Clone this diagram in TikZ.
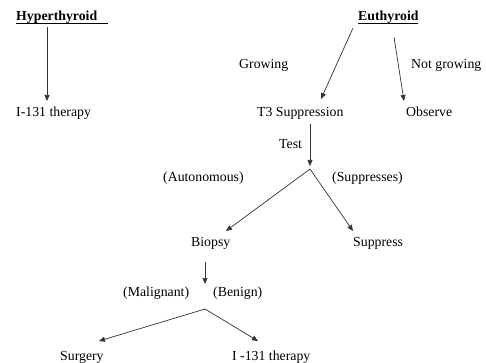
\documentclass[tikz,border=0pt]{standalone}
\usepackage{fontspec}
\setmainfont{Liberation Serif}
\usetikzlibrary{arrows.meta}
\begin{document}
\begin{tikzpicture}[x=1pt,y=-1pt,
  lbl/.style={anchor=west,inner sep=0pt,font=\fontsize{13.8}{16}\selectfont,text height=0.68em,text depth=0.22em},
  ttl/.style={lbl,font=\fontsize{13.8}{16}\selectfont\bfseries},
  arr/.style={draw=black!80,line width=0.7pt,-{Triangle[length=6pt,width=5pt]}},
  uline/.style={draw=black,line width=0.8pt}]
\useasboundingbox (0,0) rectangle (486,363);
% nodes
\node[ttl] (hyp) at (16,18) {Hyperthyroid};
\node[ttl] (eu) at (358,18) {Euthyroid};
\node[lbl] (i131a) at (16,114.5) {I-131 therapy};
\node[lbl] (grow) at (239,66.5) {Growing};
\node[lbl] (notg) at (411,66.5) {Not growing};
\node[lbl] (t3) at (257,114.5) {T3 Suppression};
\node[lbl] (obs) at (406,114.5) {Observe};
\node[lbl] (test) at (279,146.5) {Test};
\node[lbl] (auto) at (163,179.5) {(Autonomous)};
\node[lbl] (supps) at (332,179.5) {(Suppresses)};
\node[lbl] (bio) at (191,244.5) {Biopsy};
\node[lbl] (supp) at (353,244.5) {Suppress};
\node[lbl] (mal) at (123,294.5) {(Malignant)};
\node[lbl] (ben) at (213,294.5) {(Benign)};
\node[lbl] (surg) at (60,358.5) {Surgery};
\node[lbl] (i131b) at (232,358.5) {I -131 therapy};
% underlines
\coordinate (hu1) at (16,23); \coordinate (hu2) at (108,23);
\coordinate (eu1) at (358,23); \coordinate (eu2) at (418,23);
\draw[uline] (hu1) -- (hu2);
\draw[uline] (eu1) -- (eu2);
% connector endpoints
\coordinate (a1s) at (47,27);   \coordinate (a1e) at (47,101);
\coordinate (a2s) at (353,28);  \coordinate (a2e) at (321,99);
\coordinate (a3s) at (394,37);  \coordinate (a3e) at (404,101);
\coordinate (a4s) at (310,124); \coordinate (a4e) at (310,166);
\coordinate (ap1) at (310,169);
\coordinate (a5e) at (226,231); \coordinate (a6e) at (353,231);
\coordinate (a7s) at (205,262); \coordinate (a7e) at (205,284);
\coordinate (ap2) at (205,309);
\coordinate (a8e) at (99,341);  \coordinate (a9e) at (258,341);
% connectors
\draw[arr] (a1s) -- (a1e);
\draw[arr] (a2s) -- (a2e);
\draw[arr] (a3s) -- (a3e);
\draw[arr] (a4s) -- (a4e);
\draw[arr] (ap1) -- (a5e);
\draw[arr] (ap1) -- (a6e);
\draw[arr] (a7s) -- (a7e);
\draw[arr] (ap2) -- (a8e);
\draw[arr] (ap2) -- (a9e);
\end{tikzpicture}
\end{document}
